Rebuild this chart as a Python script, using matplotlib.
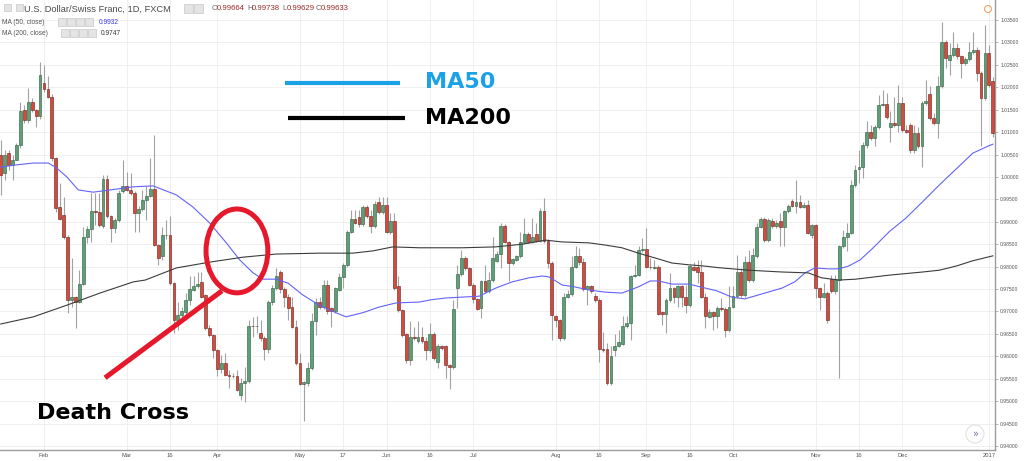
import numpy as np
import pandas as pd
import matplotlib
matplotlib.use("Agg")
import matplotlib.pyplot as plt
from matplotlib.patches import Ellipse, Rectangle, Circle
from matplotlib.transforms import IdentityTransform

######################################## Data ##################################################
# USD/CHF daily candles (bar 0 = 2016-01-15)
opens = [
    1.0049, 1.0009, 1.0054, 1.0027, 1.0038, 1.0071, 1.0149, 1.0127, 1.0168, 1.0149,
    1.0136, 1.0209, 1.0196, 1.0179, 1.0042, 0.9933, 0.9915, 0.9867, 0.9726, 0.9732,
    0.9722, 0.9762, 0.9867, 0.9884, 0.9923, 0.9922, 0.9890, 0.9995, 0.9912, 0.9887,
    0.9904, 0.9968, 0.9979, 0.9971, 0.9964, 0.9919, 0.9928, 0.9949, 0.9958, 0.9974,
    0.9848, 0.9823, 0.9871, 0.9870, 0.9763, 0.9681, 0.9692, 0.9699, 0.9726, 0.9748,
    0.9757, 0.9766, 0.9737, 0.9663, 0.9647, 0.9614, 0.9571, 0.9585, 0.9558, 0.9556,
    0.9555, 0.9514, 0.9540, 0.9544, 0.9668, 0.9667, 0.9652, 0.9641, 0.9616, 0.9720,
    0.9752, 0.9787, 0.9750, 0.9733, 0.9711, 0.9666, 0.9585, 0.9539, 0.9540, 0.9574,
    0.9678, 0.9720, 0.9710, 0.9759, 0.9707, 0.9700, 0.9748, 0.9776, 0.9804, 0.9878,
    0.9906, 0.9910, 0.9895, 0.9932, 0.9912, 0.9891, 0.9945, 0.9921, 0.9938, 0.9878,
    0.9901, 0.9757, 0.9703, 0.9650, 0.9592, 0.9644, 0.9633, 0.9644, 0.9633, 0.9614,
    0.9650, 0.9588, 0.9622, 0.9622, 0.9580, 0.9576, 0.9752, 0.9784, 0.9819, 0.9797,
    0.9759, 0.9727, 0.9707, 0.9767, 0.9745, 0.9770, 0.9813, 0.9828, 0.9891, 0.9854,
    0.9808, 0.9815, 0.9823, 0.9854, 0.9873, 0.9856, 0.9873, 0.9858, 0.9925, 0.9858,
    0.9809, 0.9689, 0.9681, 0.9641, 0.9732, 0.9739, 0.9799, 0.9824, 0.9811, 0.9750,
    0.9756, 0.9735, 0.9726, 0.9616, 0.9616, 0.9540, 0.9613, 0.9623, 0.9628, 0.9668,
    0.9674, 0.9780, 0.9781, 0.9836, 0.9839, 0.9800, 0.9797, 0.9800, 0.9698, 0.9695,
    0.9726, 0.9752, 0.9733, 0.9757, 0.9732, 0.9714, 0.9799, 0.9799, 0.9789, 0.9732,
    0.9687, 0.9699, 0.9690, 0.9707, 0.9706, 0.9659, 0.9711, 0.9734, 0.9789, 0.9737,
    0.9811, 0.9770, 0.9824, 0.9889, 0.9906, 0.9860, 0.9902, 0.9891, 0.9901, 0.9889,
    0.9923, 0.9947, 0.9936, 0.9943, 0.9934, 0.9938, 0.9871, 0.9892, 0.9752, 0.9733,
    0.9741, 0.9772, 0.9745, 0.9770, 0.9845, 0.9866, 0.9875, 0.9982, 1.0018, 1.0023,
    1.0071, 1.0100, 1.0087, 1.0112, 1.0161, 1.0162, 1.0112, 1.0120, 1.0116, 1.0166,
    1.0104, 1.0116, 1.0060, 1.0099, 1.0069, 1.0165, 1.0185, 1.0131, 1.0120, 1.0203,
    1.0301, 1.0260, 1.0272, 1.0287, 1.0269, 1.0255, 1.0263, 1.0278, 1.0283, 1.0232,
    1.0177, 1.0276, 1.0215]
highs = [
    1.0082, 1.0060, 1.0060, 1.0049, 1.0075, 1.0168, 1.0160, 1.0198, 1.0175, 1.0152,
    1.0257, 1.0250, 1.0224, 1.0185, 1.0045, 0.9987, 0.9956, 0.9870, 0.9819, 0.9735,
    0.9792, 0.9889, 0.9890, 0.9964, 0.9964, 0.9964, 1.0004, 1.0004, 0.9915, 0.9908,
    0.9971, 1.0038, 1.0012, 1.0009, 0.9968, 0.9935, 0.9971, 0.9979, 1.0042, 1.0094,
    0.9850, 0.9889, 0.9904, 0.9912, 0.9766, 0.9722, 0.9710, 0.9741, 0.9778, 0.9778,
    0.9787, 0.9789, 0.9740, 0.9670, 0.9650, 0.9616, 0.9603, 0.9607, 0.9569, 0.9562,
    0.9569, 0.9551, 0.9577, 0.9681, 0.9687, 0.9689, 0.9681, 0.9645, 0.9725, 0.9758,
    0.9797, 0.9793, 0.9755, 0.9738, 0.9733, 0.9681, 0.9607, 0.9545, 0.9588, 0.9696,
    0.9730, 0.9733, 0.9770, 0.9770, 0.9710, 0.9755, 0.9786, 0.9808, 0.9882, 0.9926,
    0.9926, 0.9926, 0.9937, 0.9937, 0.9926, 0.9947, 0.9956, 0.9956, 0.9956, 0.9919,
    0.9919, 0.9778, 0.9706, 0.9652, 0.9678, 0.9666, 0.9678, 0.9666, 0.9644, 0.9674,
    0.9654, 0.9627, 0.9625, 0.9625, 0.9583, 0.9726, 0.9804, 0.9837, 0.9823, 0.9800,
    0.9763, 0.9730, 0.9770, 0.9804, 0.9789, 0.9867, 0.9834, 0.9897, 0.9895, 0.9857,
    0.9820, 0.9826, 0.9878, 0.9908, 0.9878, 0.9908, 0.9897, 0.9930, 0.9952, 0.9862,
    0.9812, 0.9692, 0.9683, 0.9741, 0.9748, 0.9823, 0.9845, 0.9841, 0.9819, 0.9760,
    0.9759, 0.9741, 0.9729, 0.9655, 0.9629, 0.9622, 0.9650, 0.9659, 0.9689, 0.9689,
    0.9782, 0.9804, 0.9845, 0.9863, 0.9886, 0.9819, 0.9815, 0.9803, 0.9700, 0.9729,
    0.9786, 0.9755, 0.9760, 0.9760, 0.9759, 0.9804, 0.9811, 0.9815, 0.9815, 0.9741,
    0.9705, 0.9702, 0.9712, 0.9730, 0.9710, 0.9756, 0.9756, 0.9826, 0.9797, 0.9823,
    0.9837, 0.9841, 0.9897, 0.9910, 0.9910, 0.9908, 0.9908, 0.9904, 0.9919, 0.9926,
    0.9940, 0.9950, 0.9993, 0.9960, 0.9945, 0.9949, 0.9896, 0.9896, 0.9755, 0.9763,
    0.9745, 0.9781, 0.9781, 0.9848, 0.9882, 0.9897, 0.9993, 1.0027, 1.0060, 1.0079,
    1.0124, 1.0116, 1.0116, 1.0183, 1.0194, 1.0187, 1.0146, 1.0178, 1.0205, 1.0178,
    1.0116, 1.0120, 1.0116, 1.0112, 1.0170, 1.0216, 1.0202, 1.0142, 1.0226, 1.0346,
    1.0305, 1.0298, 1.0324, 1.0298, 1.0272, 1.0268, 1.0302, 1.0324, 1.0290, 1.0236,
    1.0339, 1.0295, 1.0222]
lows = [
    0.9960, 0.9993, 1.0016, 0.9993, 1.0038, 1.0065, 1.0120, 1.0120, 1.0145, 1.0112,
    1.0130, 1.0190, 1.0175, 1.0035, 0.9922, 0.9904, 0.9862, 0.9696, 0.9711, 0.9663,
    0.9718, 0.9758, 0.9852, 0.9856, 0.9893, 0.9888, 0.9885, 0.9908, 0.9856, 0.9875,
    0.9900, 0.9964, 0.9968, 0.9960, 0.9878, 0.9878, 0.9924, 0.9904, 0.9955, 0.9845,
    0.9804, 0.9815, 0.9862, 0.9760, 0.9652, 0.9659, 0.9685, 0.9692, 0.9714, 0.9745,
    0.9753, 0.9730, 0.9659, 0.9644, 0.9596, 0.9555, 0.9562, 0.9555, 0.9529, 0.9551,
    0.9523, 0.9503, 0.9499, 0.9540, 0.9644, 0.9652, 0.9633, 0.9592, 0.9607, 0.9714,
    0.9748, 0.9741, 0.9711, 0.9681, 0.9662, 0.9580, 0.9536, 0.9455, 0.9533, 0.9570,
    0.9647, 0.9705, 0.9705, 0.9695, 0.9666, 0.9697, 0.9745, 0.9752, 0.9800, 0.9875,
    0.9895, 0.9889, 0.9890, 0.9908, 0.9875, 0.9885, 0.9917, 0.9917, 0.9874, 0.9872,
    0.9748, 0.9699, 0.9644, 0.9585, 0.9580, 0.9636, 0.9630, 0.9629, 0.9592, 0.9610,
    0.9592, 0.9574, 0.9614, 0.9551, 0.9527, 0.9572, 0.9707, 0.9780, 0.9793, 0.9756,
    0.9719, 0.9703, 0.9685, 0.9741, 0.9741, 0.9766, 0.9811, 0.9797, 0.9852, 0.9767,
    0.9804, 0.9813, 0.9820, 0.9850, 0.9852, 0.9852, 0.9855, 0.9855, 0.9852, 0.9797,
    0.9636, 0.9666, 0.9633, 0.9636, 0.9729, 0.9735, 0.9796, 0.9804, 0.9746, 0.9714,
    0.9741, 0.9722, 0.9588, 0.9610, 0.9536, 0.9536, 0.9600, 0.9620, 0.9625, 0.9664,
    0.9636, 0.9776, 0.9778, 0.9833, 0.9797, 0.9795, 0.9794, 0.9692, 0.9670, 0.9652,
    0.9722, 0.9719, 0.9711, 0.9711, 0.9696, 0.9711, 0.9790, 0.9763, 0.9729, 0.9663,
    0.9686, 0.9659, 0.9663, 0.9700, 0.9644, 0.9655, 0.9707, 0.9730, 0.9733, 0.9733,
    0.9766, 0.9766, 0.9820, 0.9885, 0.9856, 0.9856, 0.9887, 0.9887, 0.9845, 0.9845,
    0.9919, 0.9932, 0.9919, 0.9930, 0.9930, 0.9872, 0.9863, 0.9730, 0.9703, 0.9729,
    0.9675, 0.9741, 0.9740, 0.9551, 0.9842, 0.9834, 0.9872, 0.9978, 0.9987, 0.9998,
    1.0065, 1.0082, 1.0069, 1.0108, 1.0158, 1.0130, 1.0079, 1.0112, 1.0101, 1.0101,
    1.0097, 1.0053, 1.0053, 1.0065, 1.0023, 1.0160, 1.0127, 1.0115, 1.0087, 1.0198,
    1.0243, 1.0228, 1.0268, 1.0264, 1.0220, 1.0250, 1.0259, 1.0274, 1.0213, 1.0068,
    1.0172, 1.0200, 1.0090]
closes = [
    1.0004, 1.0049, 1.0027, 1.0038, 1.0071, 1.0146, 1.0127, 1.0168, 1.0149, 1.0136,
    1.0228, 1.0196, 1.0179, 1.0042, 0.9930, 0.9907, 0.9867, 0.9726, 0.9732, 0.9722,
    0.9762, 0.9867, 0.9884, 0.9923, 0.9922, 0.9892, 0.9995, 0.9912, 0.9887, 0.9904,
    0.9964, 0.9979, 0.9971, 0.9964, 0.9919, 0.9928, 0.9949, 0.9958, 0.9974, 0.9848,
    0.9819, 0.9871, 0.9870, 0.9763, 0.9681, 0.9692, 0.9700, 0.9726, 0.9751, 0.9757,
    0.9762, 0.9733, 0.9663, 0.9647, 0.9614, 0.9571, 0.9585, 0.9558, 0.9556, 0.9555,
    0.9525, 0.9540, 0.9545, 0.9668, 0.9667, 0.9668, 0.9641, 0.9616, 0.9720, 0.9752,
    0.9778, 0.9750, 0.9733, 0.9707, 0.9666, 0.9585, 0.9539, 0.9542, 0.9574, 0.9678,
    0.9720, 0.9710, 0.9759, 0.9700, 0.9700, 0.9752, 0.9776, 0.9804, 0.9878, 0.9906,
    0.9898, 0.9895, 0.9932, 0.9913, 0.9891, 0.9940, 0.9921, 0.9938, 0.9878, 0.9901,
    0.9752, 0.9703, 0.9647, 0.9592, 0.9644, 0.9641, 0.9644, 0.9633, 0.9614, 0.9650,
    0.9596, 0.9622, 0.9619, 0.9580, 0.9576, 0.9705, 0.9784, 0.9819, 0.9797, 0.9759,
    0.9727, 0.9705, 0.9767, 0.9745, 0.9770, 0.9819, 0.9828, 0.9891, 0.9854, 0.9808,
    0.9817, 0.9824, 0.9856, 0.9873, 0.9856, 0.9867, 0.9858, 0.9925, 0.9858, 0.9809,
    0.9692, 0.9681, 0.9641, 0.9732, 0.9739, 0.9799, 0.9824, 0.9811, 0.9750, 0.9756,
    0.9745, 0.9726, 0.9616, 0.9614, 0.9540, 0.9601, 0.9623, 0.9631, 0.9668, 0.9675,
    0.9780, 0.9781, 0.9837, 0.9839, 0.9800, 0.9799, 0.9800, 0.9695, 0.9695, 0.9726,
    0.9752, 0.9733, 0.9757, 0.9732, 0.9714, 0.9802, 0.9793, 0.9789, 0.9732, 0.9689,
    0.9699, 0.9690, 0.9707, 0.9706, 0.9659, 0.9711, 0.9735, 0.9789, 0.9737, 0.9811,
    0.9770, 0.9826, 0.9889, 0.9906, 0.9860, 0.9904, 0.9891, 0.9898, 0.9889, 0.9923,
    0.9936, 0.9936, 0.9943, 0.9934, 0.9938, 0.9876, 0.9892, 0.9752, 0.9733, 0.9741,
    0.9680, 0.9745, 0.9772, 0.9845, 0.9866, 0.9875, 0.9982, 1.0016, 1.0023, 1.0071,
    1.0100, 1.0087, 1.0112, 1.0161, 1.0162, 1.0133, 1.0120, 1.0116, 1.0166, 1.0104,
    1.0100, 1.0060, 1.0099, 1.0068, 1.0165, 1.0170, 1.0131, 1.0120, 1.0203, 1.0301,
    1.0266, 1.0272, 1.0287, 1.0269, 1.0255, 1.0263, 1.0278, 1.0283, 1.0232, 1.0177,
    1.0276, 1.0205, 1.0099]

# moving averages, sampled along the drawn lines (bar number, price)
ma50_bar = [0, 4.1, 8.3, 12.1, 14.2, 16.8, 19.7, 23.5, 27.8, 33.7, 38.7, 44.6, 48.8,
            53.1, 57.3, 60.7, 64.1, 66.6, 70.0, 73.0, 76.7, 80.9, 85.2, 87.7, 91.9,
            96.2, 100.4, 106.3, 109.3, 113.0, 117.2, 121.5, 125.7, 129.9, 134.2,
            137.6, 139.3, 142.6, 145.6, 149.4, 153.6, 157.8, 162.0, 165.0, 167.1,
            170.5, 174.8, 179.0, 181.9, 185.7, 189.0, 194.1, 198.4, 201.7, 204.3,
            206.8, 210.2, 212.8, 215.3, 218.3, 221.5, 225.7, 229.9, 234.2, 238.4,
            242.6, 246.9, 251.1, 252]
ma50 = [1.0022, 1.0027, 1.0031, 1.0031, 1.0020, 1.0000, 0.9971, 0.9966, 0.9971, 0.9978,
        0.9980, 0.9960, 0.9933, 0.9897, 0.9853, 0.9815, 0.9786, 0.9772, 0.9772, 0.9763,
        0.9737, 0.9714, 0.9697, 0.9688, 0.9697, 0.9710, 0.9719, 0.9721, 0.9726, 0.9730,
        0.9732, 0.9734, 0.9752, 0.9766, 0.9775, 0.9779, 0.9777, 0.9759, 0.9755, 0.9748,
        0.9743, 0.9741, 0.9755, 0.9768, 0.9768, 0.9761, 0.9761, 0.9752, 0.9746, 0.9732,
        0.9728, 0.9741, 0.9752, 0.9766, 0.9786, 0.9797, 0.9795, 0.9795, 0.9801, 0.9815,
        0.9841, 0.9878, 0.9908, 0.9945, 0.9982, 1.0017, 1.0053, 1.0070, 1.0073]
ma200_bar = [0, 8.3, 16.8, 25.2, 33.7, 36.7, 44.6, 53.1, 61.5, 70.0, 80.9, 89.4, 94.5,
             99.6, 106.3, 117.2, 125.7, 132.5, 138.4, 142.6, 149.4, 153.6, 157.8,
             162.0, 166.3, 170.5, 174.8, 179.0, 181.9, 189.9, 198.4, 205.1, 208.5,
             212.8, 217.2, 225.7, 234.2, 238.4, 242.6, 246.9, 252]
ma200 = [0.9672, 0.9688, 0.9714, 0.9741, 0.9766, 0.9770, 0.9797, 0.9810, 0.9821, 0.9828,
         0.9830, 0.9830, 0.9835, 0.9844, 0.9842, 0.9842, 0.9844, 0.9850, 0.9859, 0.9855,
         0.9853, 0.9848, 0.9842, 0.9830, 0.9819, 0.9808, 0.9804, 0.9801, 0.9798, 0.9792,
         0.9788, 0.9786, 0.9775, 0.9770, 0.9772, 0.9781, 0.9788, 0.9792, 0.9801, 0.9813,
         0.9824]

tick_dates = ['2016-02-01', '2016-03-01', '2016-03-16', '2016-04-01', '2016-05-02',
              '2016-05-17', '2016-06-01', '2016-06-16', '2016-07-01', '2016-08-01',
              '2016-08-16', '2016-09-01', '2016-09-16', '2016-10-03', '2016-11-01',
              '2016-11-16', '2016-12-01', '2017-01-02']
tick_labels = ['Feb', 'Mar', '16', 'Apr', 'May', '17', 'Jun', '16', 'Jul', 'Aug',
               '16', 'Sep', '16', 'Oct', 'Nov', '16', 'Dec', '2017']

ohlc_names = ['O', 'H', 'L', 'C']
ohlc_values = ['0.99664', '0.99738', '0.99629', '0.99633']

######################################## Plotting ##############################################
o = np.array(opens)
h = np.array(highs)
l = np.array(lows)
c = np.array(closes)
bars = np.arange(len(c))
dates = pd.bdate_range('2016-01-15', periods=len(c))

W, H = 1024, 461
fig = plt.figure(figsize=(W / 100, H / 100), dpi=100)
fig.patch.set_facecolor('white')
ax = fig.add_axes([0, 11 / H, 995 / W, 450 / H])

GREEN, GREEN_EDGE = '#5f9f77', '#2c5a3c'
RED, RED_EDGE = '#d24b3e', '#6a1d15'

# wicks + bodies
ax.vlines(bars, l, h, color='#a2a2a2', lw=0.8, zorder=2)
up = c >= o
body_lo = np.minimum(o, c)
body_h = np.maximum(np.abs(c - o), 0.00012)
ax.bar(bars[up], body_h[up], bottom=body_lo[up], width=0.72, color=GREEN,
       edgecolor=GREEN_EDGE, lw=0.4, zorder=3)
ax.bar(bars[~up], body_h[~up], bottom=body_lo[~up], width=0.72, color=RED,
       edgecolor=RED_EDGE, lw=0.4, zorder=3)

# moving averages
ax.plot(ma50_bar, ma50, color='#6363f7', lw=0.8, zorder=4)
ax.plot(ma200_bar, ma200, color='#3c3c3c', lw=0.8, zorder=4)

ax.set_xlim(-0.18, 252.55)
ax.set_ylim(0.93910, 1.03946)

# axes styling (tradingview look)
ax.yaxis.tick_right()
ax.set_yticks(np.arange(0.940, 1.03501, 0.005))
ax.yaxis.set_major_formatter(plt.FormatStrFormatter('%.5f'))
tick_pos = [dates.get_loc(pd.Timestamp(d)) for d in tick_dates]
ax.set_xticks(tick_pos)
ax.set_xticklabels(tick_labels)
ax.grid(True, color='#ececec', lw=0.6, zorder=0)
ax.tick_params(axis='y', labelsize=3.6, labelcolor='#555555', color='#999999',
               length=2.5, width=0.5, pad=1.2)
ax.tick_params(axis='x', labelsize=4.2, labelcolor='#555555', length=0, pad=2.2)
for lab in ax.get_xticklabels() + ax.get_yticklabels():
    lab.set_family('Liberation Sans')
for side in ['left', 'top']:
    ax.spines[side].set_visible(False)
for side in ['right', 'bottom']:
    ax.spines[side].set_color('#9c9c9c')
    ax.spines[side].set_linewidth(1.0)

# annotations
RED_MARK = '#e5192b'
ax.add_patch(Ellipse((60.0, 0.9835), width=15.7, height=0.0187, fill=False,
                     ec=RED_MARK, lw=3.6, zorder=6))
ax.plot([26.5, 56.2], [0.9552, 0.9746], color=RED_MARK, lw=3.6, zorder=6,
        solid_capstyle='butt')
ax.text(0.0372, 0.083, 'Death Cross', transform=ax.transAxes, fontsize=16,
        fontweight='bold', color='black', va='center', ha='left', zorder=7)

ax.plot([0.2864, 0.402], [0.8156, 0.8156], transform=ax.transAxes, color='#1aa1e6',
        lw=3, zorder=7, solid_capstyle='butt')
ax.text(0.427, 0.818, 'MA50', transform=ax.transAxes, fontsize=16, fontweight='bold',
        color='#1aa1e6', va='center', ha='left', zorder=7)
ax.plot([0.2894, 0.407], [0.738, 0.738], transform=ax.transAxes, color='black',
        lw=3, zorder=7, solid_capstyle='butt')
ax.text(0.427, 0.738, 'MA200', transform=ax.transAxes, fontsize=16, fontweight='bold',
        color='black', va='center', ha='left', zorder=7)

# header (legend rows of the chart widget)
def fx(px):
    return px / W

def fy(py):
    return 1 - py / H

ui = 'Liberation Sans'
fig.text(fx(24), fy(9), 'U.S. Dollar/Swiss Franc, 1D, FXCM', fontsize=6.7, family=ui,
         color='#4a4a4a', va='center')
ohlc_x = [212, 247, 282, 316]
for x0, nm, val in zip(ohlc_x, ohlc_names, ohlc_values):
    fig.text(fx(x0), fy(9), nm, fontsize=5.6, family=ui, color='#6a6a6a', va='center')
    fig.text(fx(x0 + 4.8), fy(9), val, fontsize=5.6, family=ui, color='#9a2b2b',
             va='center')
fig.text(fx(2), fy(22), 'MA (50, close)', fontsize=4.8, family=ui, color='#555555',
         va='center')
fig.text(fx(99), fy(22), '0.9932', fontsize=4.8, family=ui, color='#3b3bf0', va='center')
fig.text(fx(2), fy(33), 'MA (200, close)', fontsize=4.8, family=ui, color='#555555',
         va='center')
fig.text(fx(101), fy(33), '0.9747', fontsize=4.8, family=ui, color='#333333', va='center')

# small widget icons
pix = IdentityTransform()
icon_boxes = [(4, 4, 7), (16, 4, 7), (184, 4, 9), (194, 4, 9)]
icon_boxes += [(58 + 9 * k, 18, 8) for k in range(4)]
icon_boxes += [(61 + 9 * k, 29, 8) for k in range(4)]
for bx, by, bs in icon_boxes:
    fig.add_artist(Rectangle((bx, H - by - bs), bs, bs, transform=pix,
                             facecolor='#e4e4e4', edgecolor='#c8c8c8', lw=0.5))
fig.add_artist(Circle((988, H - 9), 3.5, transform=pix, fill=False,
                      edgecolor='#f3a468', lw=0.8))
fig.add_artist(Circle((975, H - 434), 9, transform=pix, facecolor='white',
                      edgecolor='#e2e2e2', lw=0.8, zorder=8))
fig.text(fx(975), fy(434), '\u00bb', fontsize=7, color='#6b7c9c', ha='center',
         va='center', zorder=9)

fig.savefig('out.png', dpi=100)
